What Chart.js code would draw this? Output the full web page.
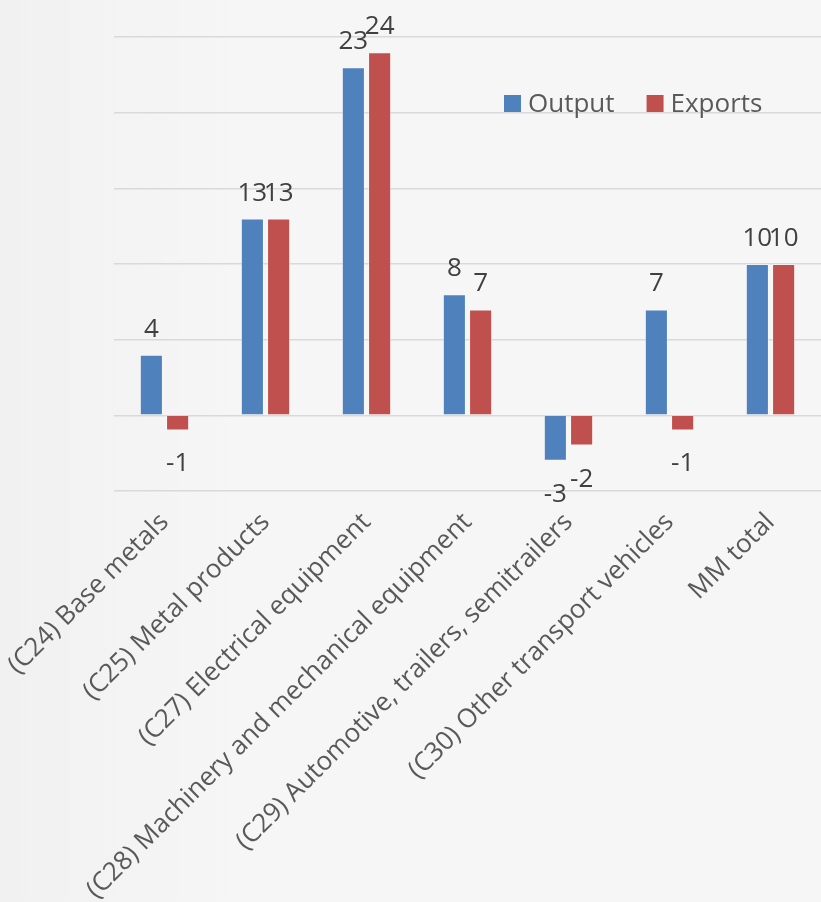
<!DOCTYPE html>
<html><head><meta charset="utf-8">
<script src="https://cdn.jsdelivr.net/npm/chart.js@4/dist/chart.umd.min.js"></script>
<style>html,body{margin:0;padding:0;background:#f5f5f5;overflow:hidden;} #wrap{width:821px;height:902px;position:relative;}</style>
</head><body><div id="wrap"><canvas id="c"></canvas></div>
<script>
const categories = [
  '(C24) Base metals',
  '(C25) Metal products',
  '(C27) Electrical equipment',
  '(C28) Machinery and mechanical equipment',
  '(C29) Automotive, trailers, semitrailers',
  '(C30) Other transport vehicles',
  'MM total'
];
const outputValues = [4, 13, 23, 8, -3, 7, 10];
const exportValues = [-1, 13, 24, 7, -2, -1, 10];
const seriesNames = ['Output', 'Exports'];
const seriesColors = ['#4f81bd', '#c0504d'];
const yMin = -5, yMax = 25, yStep = 5;

const FONT = "'Open Sans', sans-serif";
const FONT_SIZE = 26;

const bgPlugin = {
  id: 'bg',
  beforeDraw(chart) {
    const ctx = chart.ctx;
    ctx.save();
    const g = ctx.createLinearGradient(0, 0, chart.width, 0);
    g.addColorStop(0, '#f1f1f1');
    g.addColorStop(0.3, '#f6f6f6');
    g.addColorStop(1, '#f6f6f6');
    ctx.fillStyle = g;
    ctx.fillRect(0, 0, chart.width, chart.height);
    ctx.restore();
  }
};

const valueLabels = {
  id: 'valueLabels',
  afterDatasetsDraw(chart) {
    const ctx = chart.ctx;
    ctx.save();
    ctx.font = FONT_SIZE + 'px ' + FONT;
    ctx.fillStyle = '#404040';
    ctx.textAlign = 'center';
    ctx.textBaseline = 'alphabetic';
    chart.data.datasets.forEach((ds, di) => {
      const meta = chart.getDatasetMeta(di);
      meta.data.forEach((el, i) => {
        const v = ds.data[i];
        const y = v >= 0 ? el.y - 18 : el.y + 41;
        ctx.fillText(String(v), el.x, y);
      });
    });
    ctx.restore();
  }
};

const customLegend = {
  id: 'customLegend',
  afterDraw(chart) {
    const ctx = chart.ctx;
    ctx.save();
    ctx.font = FONT_SIZE + 'px ' + FONT;
    ctx.textBaseline = 'alphabetic';
    ctx.textAlign = 'left';
    let x = 504;
    const boxTop = 95, box = 17, baseline = 112;
    chart.data.datasets.forEach((ds) => {
      ctx.fillStyle = ds.backgroundColor;
      ctx.fillRect(x, boxTop, box, box);
      x += box + 7;
      ctx.fillStyle = '#595959';
      ctx.fillText(ds.label, x, baseline);
      x += ctx.measureText(ds.label).width + 32;
    });
    ctx.restore();
  }
};

new Chart(document.getElementById('c'), {
  type: 'bar',
  data: {
    labels: categories,
    datasets: [
      { label: seriesNames[0], data: outputValues, backgroundColor: seriesColors[0], borderColor: 'rgba(255,255,255,0.35)', borderWidth: 1 },
      { label: seriesNames[1], data: exportValues, backgroundColor: seriesColors[1], borderColor: 'rgba(255,255,255,0.35)', borderWidth: 1 }
    ]
  },
  options: {
    responsive: true,
    maintainAspectRatio: false,
    animation: false,
    categoryPercentage: 0.52,
    barPercentage: 0.88,
    layout: { padding: { left: 114, top: 37, right: 0, bottom: 0 } },
    plugins: {
      legend: { display: false },
      tooltip: { enabled: false }
    },
    scales: {
      x: {
        grid: { display: false },
        border: { display: false },
        ticks: {
          color: '#595959',
          font: { family: FONT, size: FONT_SIZE },
          minRotation: 45,
          maxRotation: 45,
          autoSkip: false,
          padding: 8
        },
        afterFit(scale) {
          scale.height = 411;
          scale.paddingLeft = 0;
          scale.paddingRight = 0;
        }
      },
      y: {
        min: yMin,
        max: yMax,
        ticks: { display: false, stepSize: yStep },
        border: { display: false },
        grid: { color: '#d9d9d9', lineWidth: 1.5, drawTicks: false }
      }
    }
  },
  plugins: [bgPlugin, valueLabels, customLegend]
});
</script>
</body></html>
